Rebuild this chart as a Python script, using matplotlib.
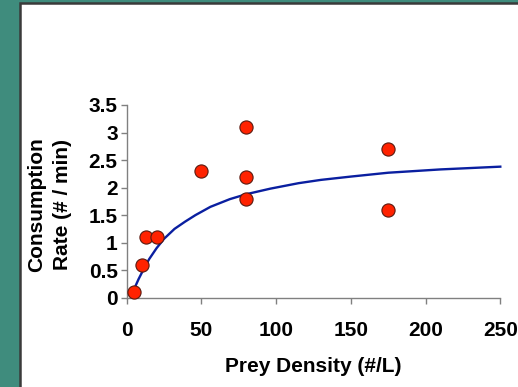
import matplotlib
matplotlib.use("Agg")
import matplotlib.pyplot as plt
from matplotlib.patches import Rectangle
import numpy as np

plt.rcParams['font.family'] = ['Liberation Sans', 'DejaVu Sans']

# Observed data
prey_density = [5, 10, 13, 20, 50, 80, 80, 80, 175, 175]
consumption = [0.1, 0.6, 1.1, 1.1, 2.3, 3.1, 2.2, 1.8, 2.7, 1.6]

# Fitted curve
fit_x = [6, 8, 11, 15, 20, 25, 32, 39, 46, 56, 69, 80, 96, 115, 130, 150, 175, 210, 250]
fit_y = [0.22, 0.34, 0.50, 0.70, 0.90, 1.07, 1.25, 1.38, 1.50, 1.65, 1.79, 1.88, 1.98,
         2.08, 2.14, 2.20, 2.27, 2.33, 2.38]

x_ticks = [0, 50, 100, 150, 200, 250]
y_ticks = [0, 0.5, 1, 1.5, 2, 2.5, 3, 3.5]
y_tick_labels = ['0', '0.5', '1', '1.5', '2', '2.5', '3', '3.5']

W, H = 518, 387
FS = 15
fig = plt.figure(figsize=(W / 100, H / 100), dpi=100)
fig.patch.set_facecolor('#3f8c7d')

bg = fig.add_axes([0, 0, 1, 1], zorder=-5)
bg.set_xlim(0, W)
bg.set_ylim(H, 0)
bg.axis('off')
bg.add_patch(Rectangle((20, 3), W, H, facecolor='white', edgecolor='#3a3a3a', linewidth=1.8))

ax = fig.add_axes([126.7 / W, 1 - 297.7 / H, (500.3 - 126.7) / W, (297.7 - 105) / H], zorder=1)
ax.set_facecolor('none')

ax.plot(fit_x, fit_y, color='#0a1fa0', linewidth=1.7, zorder=2, clip_on=False,
        solid_joinstyle='round')
ax.scatter(prey_density, consumption, s=90, color='#ff2200', edgecolor='#5a1a10',
           linewidth=0.8, zorder=3, clip_on=False)

ax.set_xlim(0, 250)
ax.set_ylim(0, 3.5)
ax.set_xticks(x_ticks)
ax.set_yticks(y_ticks)
ax.set_yticklabels(y_tick_labels)

for s in ['top', 'right']:
    ax.spines[s].set_visible(False)
for s in ['left', 'bottom']:
    ax.spines[s].set_color('#808080')
    ax.spines[s].set_linewidth(1.0)

ax.tick_params(axis='both', direction='out', length=4.5, width=1.0, color='#808080',
               labelsize=FS, labelcolor='black')
ax.tick_params(axis='x', pad=12)
ax.tick_params(axis='y', pad=2)
for lbl in ax.get_xticklabels() + ax.get_yticklabels():
    lbl.set_fontweight('bold')

fig.text(313 / W, 1 - 366 / H, 'Prey Density (#/L)', ha='center', va='center',
         fontsize=FS, fontweight='bold')
fig.text(49.5 / W, 1 - 205 / H, 'Consumption\nRate (# / min)', ha='center', va='center',
         rotation=90, fontsize=FS, fontweight='bold', linespacing=1.4)

fig.savefig('out.png', dpi=100, facecolor=fig.get_facecolor())
